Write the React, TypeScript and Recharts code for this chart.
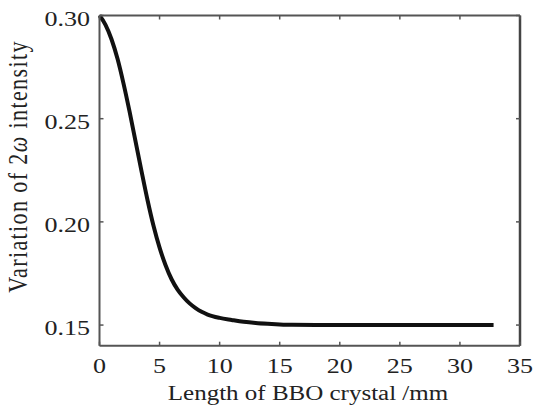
import React from "react";
import { LineChart, Line, XAxis, YAxis } from "recharts";

const lengths = [0, 0.5, 1, 1.5, 2, 2.5, 3, 3.5, 4, 4.5, 5, 5.5, 6, 6.5, 7, 7.5, 8, 8.5, 9, 10, 11, 12, 13, 14, 15, 16, 18, 20, 22, 24, 26, 28, 30, 32, 32.8];
const intensity = [0.3, 0.2955, 0.2885, 0.279, 0.267, 0.2535, 0.239, 0.2245, 0.2105, 0.198, 0.1875, 0.179, 0.1722, 0.1672, 0.1635, 0.1605, 0.1582, 0.1564, 0.1551, 0.1535, 0.1525, 0.1516, 0.151, 0.1506, 0.1503, 0.1501, 0.15, 0.15, 0.15, 0.15, 0.15, 0.15, 0.15, 0.15, 0.15];
const xTicks = [0, 5, 10, 15, 20, 25, 30, 35];
const yTicks = [0.15, 0.2, 0.25, 0.3];
const xLabel = "Length of BBO crystal /mm";
const yLabelPre = "Variation of 2";
const yLabelOmega = "ω";
const yLabelPost = " intensity";

const data = lengths.map((l, i) => ({ len: l, val: intensity[i] }));

const FONT = "'Liberation Serif', 'Times New Roman', serif";
const AX = "#555";
const TICK = 4;

const BottomTick = (props: any) => {
  const { x, y, payload } = props;
  return (
    <g>
      <line x1={x} x2={x} y1={y} y2={y - TICK} stroke={AX} strokeWidth={1.5} />
      <text
        transform={`translate(${x},${y + 27}) scale(1.27,1)`}
        textAnchor="middle"
        style={{ fontFamily: FONT, fontSize: 20.5 }}
        fill="#222"
      >
        {payload.value}
      </text>
    </g>
  );
};

const LeftTick = (props: any) => {
  const { x, y, payload } = props;
  return (
    <g>
      <line x1={x} x2={x + TICK} y1={y} y2={y} stroke={AX} strokeWidth={1.5} />
      <text
        transform={`translate(${x - 9.5},${y + 10.3}) scale(1.27,1)`}
        textAnchor="end"
        style={{ fontFamily: FONT, fontSize: 20.5 }}
        fill="#222"
      >
        {Number(payload.value).toFixed(2)}
      </text>
    </g>
  );
};

const TopTick = (props: any) => {
  const { x, y } = props;
  return <line x1={x} x2={x} y1={y} y2={y + TICK} stroke={AX} strokeWidth={1.5} />;
};

const RightTick = (props: any) => {
  const { x, y } = props;
  return <line x1={x} x2={x - TICK} y1={y} y2={y} stroke={AX} strokeWidth={1.5} />;
};

const XLabel = () => (
  <text
    transform="translate(308,400) scale(1.25,1)"
    textAnchor="middle"
    style={{ fontFamily: FONT, fontSize: 20 }}
    fill="#222"
  >
    {xLabel}
  </text>
);

const YLabel = () => (
  <text
    transform="translate(27,166.5) rotate(-90) scale(1,1.2)"
    textAnchor="middle"
    style={{ fontFamily: FONT, fontSize: 22, letterSpacing: 1.4 }}
    fill="#222"
  >
    {yLabelPre}
    <tspan fontStyle="italic">{yLabelOmega}</tspan>
    {yLabelPost}
  </text>
);

export default function App() {
  return (
    <div style={{ position: "absolute", left: 0, top: 0, background: "#fff" }}>
      <LineChart
        width={534}
        height={416}
        data={data}
        margin={{ top: 14.5, right: 13, bottom: 20.3, left: 39.5 }}
      >
        <XAxis
          xAxisId="bottom"
          dataKey="len"
          type="number"
          domain={[0, 35]}
          ticks={xTicks}
          interval={0}
          height={50}
          tickSize={0}
          tickMargin={0}
          tickLine={false}
          axisLine={{ stroke: AX, strokeWidth: 2 }}
          tick={<BottomTick />}
          label={<XLabel />}
        />
        <XAxis
          xAxisId="top"
          orientation="top"
          dataKey="len"
          type="number"
          domain={[0, 35]}
          ticks={xTicks}
          interval={0}
          height={1}
          tickSize={0}
          tickMargin={0}
          tickLine={false}
          axisLine={{ stroke: AX, strokeWidth: 2 }}
          tick={<TopTick />}
        />
        <YAxis
          yAxisId="left"
          type="number"
          domain={[0.14, 0.3]}
          ticks={yTicks}
          interval={0}
          width={60}
          tickSize={0}
          tickMargin={0}
          tickLine={false}
          axisLine={{ stroke: AX, strokeWidth: 2 }}
          tick={<LeftTick />}
          label={<YLabel />}
        />
        <YAxis
          yAxisId="right"
          orientation="right"
          type="number"
          domain={[0.14, 0.3]}
          ticks={yTicks}
          interval={0}
          width={1}
          tickSize={0}
          tickMargin={0}
          tickLine={false}
          axisLine={{ stroke: "#444", strokeWidth: 2.5 }}
          tick={<RightTick />}
        />
        <Line
          xAxisId="top"
          yAxisId="right"
          dataKey="val"
          stroke="none"
          dot={false}
          activeDot={false}
          isAnimationActive={false}
        />
        <Line
          xAxisId="bottom"
          yAxisId="left"
          dataKey="val"
          type="monotone"
          stroke="#111"
          strokeWidth={4}
          dot={false}
          activeDot={false}
          isAnimationActive={false}
        />
      </LineChart>
    </div>
  );
}
